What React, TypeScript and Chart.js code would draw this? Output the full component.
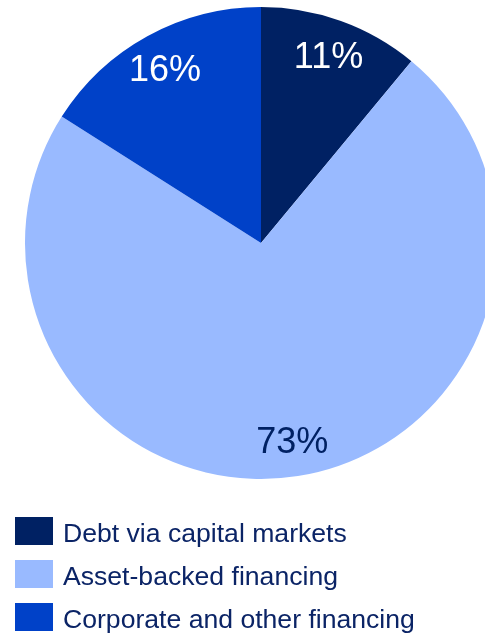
import React, { useEffect, useRef } from "react";
import { Chart, registerables } from "chart.js";

Chart.register(...registerables);

const categories = ["Debt via capital markets", "Asset-backed financing", "Corporate and other financing"];
const shares = [11, 73, 16];
const sliceColors = ["#002163", "#99BAFF", "#0041C8"];
const labelColors = ["#FFFFFF", "#002163", "#FFFFFF"];
const textColor = "#0B2466";
const FONT = "Arial, 'Liberation Sans', sans-serif";

const sliceLabelPlugin = {
  id: "sliceLabels",
  afterDatasetsDraw(chart: any) {
    const ctx = chart.ctx;
    const meta = chart.getDatasetMeta(0);
    const data = chart.data.datasets[0].data as number[];
    ctx.save();
    ctx.font = `36px ${FONT}`;
    ctx.textAlign = "center";
    ctx.textBaseline = "middle";
    meta.data.forEach((arc: any, i: number) => {
      const p = arc.getProps(["x", "y", "startAngle", "endAngle", "outerRadius"], true);
      const mid = (p.startAngle + p.endAngle) / 2;
      const r = p.outerRadius * 0.845;
      ctx.fillStyle = labelColors[i];
      ctx.fillText(`${data[i]}%`, p.x + Math.cos(mid) * r, p.y + Math.sin(mid) * r + 3);
    });
    ctx.restore();
  },
};

const legendPlugin = {
  id: "customLegend",
  afterDraw(chart: any) {
    const ctx = chart.ctx;
    const labels = chart.data.labels as string[];
    const colors = chart.data.datasets[0].backgroundColor as string[];
    ctx.save();
    ctx.font = `26.6px ${FONT}`;
    ctx.textAlign = "left";
    ctx.textBaseline = "alphabetic";
    labels.forEach((lab, i) => {
      const top = 517 + i * 43;
      ctx.fillStyle = colors[i];
      ctx.fillRect(15, top, 38, 28);
      ctx.fillStyle = textColor;
      ctx.fillText(lab, 63, top + 25);
    });
    ctx.restore();
  },
};

export default function App() {
  const ref = useRef<HTMLCanvasElement | null>(null);
  useEffect(() => {
    if (!ref.current) return;
    const chart = new Chart(ref.current, {
      type: "pie",
      data: {
        labels: categories,
        datasets: [
          {
            data: shares,
            backgroundColor: sliceColors,
            borderWidth: 0,
          },
        ],
      },
      options: {
        responsive: false,
        animation: false,
        devicePixelRatio: 1,
        layout: { padding: { top: 7, bottom: 154, left: 25, right: 27 } },
        plugins: {
          legend: { display: false },
          tooltip: { enabled: false },
        },
      },
      plugins: [sliceLabelPlugin, legendPlugin],
    });
    return () => chart.destroy();
  }, []);
  return (
    <div style={{ position: "absolute", left: 0, top: 0, width: 485, height: 633, overflow: "hidden", background: "#fff" }}>
      <canvas ref={ref} width={524} height={633} style={{ width: 524, height: 633, display: "block" }} />
    </div>
  );
}
